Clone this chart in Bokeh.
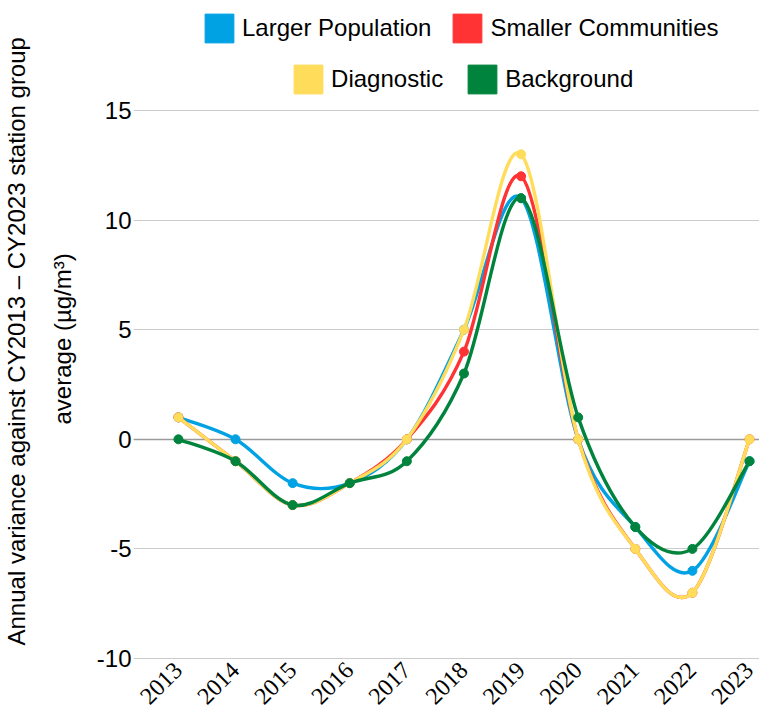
import math
from bokeh.plotting import figure
from bokeh.models import (ColumnDataSource, FixedTicker, Legend, LegendItem,
                          Range1d, Grid, LabelSet, CustomJSTickFormatter,
                          Title)
from bokeh.embed import file_html
from bokeh.resources import INLINE

years = [2013, 2014, 2015, 2016, 2017, 2018, 2019, 2020, 2021, 2022, 2023]
year_labels = [str(y) for y in years]
larger_population = [1, 0, -2, -2, 0, 5, 11, 0, -4, -6, -1]
smaller_communities = [1, -1, -3, -2, 0, 4, 12, 0, -5, -7, 0]
diagnostic = [1, -1, -3, -2, 0, 5, 13, 0, -5, -7, 0]
background = [0, -1, -3, -2, -1, 3, 11, 1, -4, -5, -1]
y_ticks = [-10, -5, 0, 5, 10, 15]
y_label_line1 = "Annual variance against CY2013 \u2013 CY2023 station group"
y_label_line2 = "average (\u00b5g/m\u00b3)"

series = [
    ("Larger Population", larger_population, "#00a2e3"),
    ("Smaller Communities", smaller_communities, "#ff3333"),
    ("Diagnostic", diagnostic, "#ffdc5a"),
    ("Background", background, "#00843d"),
]

FONT = "Liberation Sans"


def spline_segments(xs, ys):
    n = len(xs)
    d = dict(x0=[], y0=[], x1=[], y1=[], cx0=[], cy0=[], cx1=[], cy1=[])
    for i in range(n - 1):
        a = max(i - 1, 0)
        b = min(i + 2, n - 1)
        d["x0"].append(xs[i]); d["y0"].append(ys[i])
        d["x1"].append(xs[i + 1]); d["y1"].append(ys[i + 1])
        d["cx0"].append(xs[i] + (xs[i + 1] - xs[a]) / 6.0)
        d["cy0"].append(ys[i] + (ys[i + 1] - ys[a]) / 6.0)
        d["cx1"].append(xs[i + 1] - (xs[b] - xs[i]) / 6.0)
        d["cy1"].append(ys[i + 1] - (ys[b] - ys[i]) / 6.0)
    return ColumnDataSource(d)


p = figure(width=759, height=709,
           x_range=Range1d(2012.2133, 2023.1748),
           y_range=Range1d(-12.3266, 20.0182),
           x_axis_location=None,
           output_backend="svg", toolbar_location=None,
           min_border_left=132, min_border_right=0,
           min_border_top=0, min_border_bottom=0)
p.outline_line_color = None
p.background_fill_color = "white"
p.border_fill_color = "white"

p.yaxis.ticker = FixedTicker(ticks=y_ticks)
p.yaxis.formatter = CustomJSTickFormatter(code="return tick.toFixed(0);")
p.yaxis.major_label_text_font_size = "24px"
p.yaxis.major_label_text_font = FONT
p.yaxis.major_label_text_color = "#000000"
p.yaxis.axis_line_color = None
p.yaxis.major_tick_line_color = None
p.yaxis.minor_tick_line_color = None
p.yaxis.major_tick_out = 0
p.yaxis.major_label_standoff = 2


def side_title(text, offset, standoff):
    return Title(text=text, align="left", offset=offset, standoff=standoff,
                 text_font=FONT, text_font_size="24px",
                 text_font_style="normal", text_color="#000000")


# y-axis title, two lines (inner line first)
p.add_layout(side_title(y_label_line2, 285, 35), "left")
p.add_layout(side_title(y_label_line1, 64, 0), "left")

p.xgrid.grid_line_color = None
p.ygrid.ticker = FixedTicker(ticks=y_ticks)
p.ygrid.grid_line_color = "#cccccc"
p.ygrid.grid_line_width = 1.2
p.add_layout(Grid(dimension=1, ticker=FixedTicker(ticks=[0]),
                  grid_line_color="#9a9a9a", grid_line_width=1.5))

# rotated year labels under the lowest grid line
lab_src = ColumnDataSource(dict(x=years, y=[y_ticks[0]] * len(years),
                                text=year_labels))
p.add_layout(LabelSet(x="x", y="y", text="text", source=lab_src,
                      angle=math.pi / 4, text_align="right",
                      text_baseline="middle", x_offset=0, y_offset=-8,
                      text_font=FONT, text_font_size="24px",
                      text_font_style="normal", text_color="#000000"))

nan = float("nan")
legend_items = []
for name, vals, color in series:
    src = spline_segments(years, vals)
    p.bezier(x0="x0", y0="y0", x1="x1", y1="y1", cx0="cx0", cy0="cy0",
             cx1="cx1", cy1="cy1", source=src, line_color=color,
             line_width=3.4, line_cap="round")
    p.scatter(years, vals, size=9, fill_color=color, line_color=color)
    q = p.quad(left=[nan], right=[nan], top=[nan], bottom=[nan],
               fill_color=color, line_color=color)
    legend_items.append(LegendItem(label=name, renderers=[q]))


def make_legend(items, loc, spacing):
    return Legend(items=items, orientation="horizontal", location=loc,
                  glyph_width=36, glyph_height=36, label_standoff=5,
                  spacing=spacing, padding=0, margin=0,
                  border_line_color=None, background_fill_alpha=0,
                  label_text_font=FONT, label_text_font_size="24px",
                  label_text_color="#000000")


p.add_layout(make_legend(legend_items[:2], (68, 663), 18))
p.add_layout(make_legend(legend_items[2:], (157.1, 612.5), 21))

open("out.html", "w").write(file_html(p, INLINE))
